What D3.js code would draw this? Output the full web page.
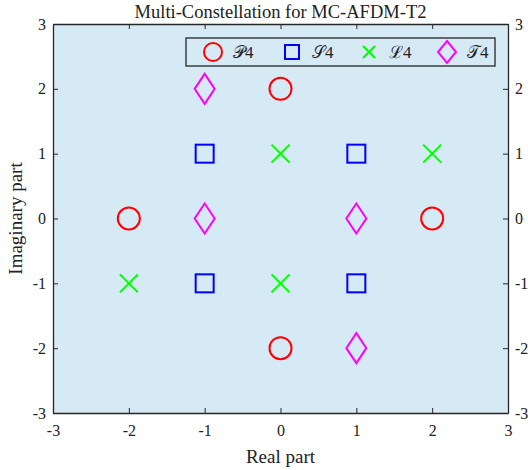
<!DOCTYPE html>
<html>
<head>
<meta charset="utf-8">
<script src="https://cdn.jsdelivr.net/npm/d3@7"></script>
<style>
  body { margin: 0; background: #fff; }
  text { font-family: "Liberation Serif", "DejaVu Serif", serif; fill: #222; }
</style>
</head>
<body>
<div id="chart"></div>
<script>
// constellation points, one array per set
var P4 = [{re: 0, im: 2}, {re: -2, im: 0}, {re: 2, im: 0}, {re: 0, im: -2}];
var S4 = [{re: -1, im: 1}, {re: 1, im: 1}, {re: -1, im: -1}, {re: 1, im: -1}];
var L4 = [{re: 0, im: 1}, {re: 2, im: 1}, {re: -2, im: -1}, {re: 0, im: -1}];
var T4 = [{re: -1, im: 2}, {re: -1, im: 0}, {re: 1, im: 0}, {re: 1, im: -2}];
var tickVals = [-3, -2, -1, 0, 1, 2, 3];
var seriesNames = ["\u{1D4AB}4", "\u{1D4AE}4", "\u2112" + "4", "\u{1D4AF}4"];

var width = 528, height = 470;
var margin = {top: 24, right: 20, bottom: 57, left: 53};

var svg = d3.select("#chart").append("svg")
  .attr("width", width)
  .attr("height", height);

var x = d3.scaleLinear().domain([-3, 3]).range([margin.left, width - margin.right]);
var y = d3.scaleLinear().domain([-3, 3]).range([height - margin.bottom, margin.top]);

// plot background
svg.append("rect")
  .attr("x", x(-3)).attr("y", y(3))
  .attr("width", x(3) - x(-3)).attr("height", y(-3) - y(3))
  .attr("fill", "#d6eaf5");

function styleAxis(g) {
  g.selectAll("path").attr("stroke", "#262626").attr("stroke-width", 1.3);
  g.selectAll("line").attr("stroke", "#262626");
  g.selectAll("text").attr("font-size", 16).attr("fill", "#262626")
    .style("font-family", "'Liberation Serif', serif");
}

var fmt = function(d) { return d; };
svg.append("g").attr("transform", "translate(0," + y(-3) + ")")
  .call(d3.axisBottom(x).tickValues(tickVals).tickFormat(fmt).tickSizeInner(-5).tickSizeOuter(0).tickPadding(12))
  .call(styleAxis);
svg.append("g").attr("transform", "translate(0," + y(3) + ")")
  .call(d3.axisTop(x).tickValues(tickVals).tickFormat("").tickSizeInner(-5).tickSizeOuter(0))
  .call(styleAxis);
svg.append("g").attr("transform", "translate(" + x(-3) + ",0)")
  .call(d3.axisLeft(y).tickValues(tickVals).tickFormat(fmt).tickSizeInner(-5).tickSizeOuter(0).tickPadding(7))
  .call(styleAxis);
svg.append("g").attr("transform", "translate(" + x(3) + ",0)")
  .call(d3.axisRight(y).tickValues(tickVals).tickFormat(fmt).tickSizeInner(-5).tickSizeOuter(0).tickPadding(7))
  .call(styleAxis);

// title and axis labels
svg.append("text").attr("x", (x(-3) + x(3)) / 2).attr("y", 18)
  .attr("text-anchor", "middle").attr("font-size", 18.5).text("Multi-Constellation for MC-AFDM-T2");
svg.append("text").attr("x", (x(-3) + x(3)) / 2).attr("y", 463)
  .attr("text-anchor", "middle").attr("font-size", 19).text("Real part");
svg.append("text")
  .attr("transform", "translate(22," + y(0) + ") rotate(-90)")
  .attr("text-anchor", "middle").attr("font-size", 19).text("Imaginary part");

var sw = 2;
var marks = svg.append("g");

marks.selectAll(".p4").data(P4).enter().append("circle")
  .attr("cx", function(d) { return x(d.re); })
  .attr("cy", function(d) { return y(d.im); })
  .attr("r", 11).attr("fill", "none").attr("stroke", "#ff0000").attr("stroke-width", sw);

marks.selectAll(".s4").data(S4).enter().append("rect")
  .attr("x", function(d) { return x(d.re) - 9; })
  .attr("y", function(d) { return y(d.im) - 9; })
  .attr("width", 18).attr("height", 18)
  .attr("fill", "none").attr("stroke", "#0000ff").attr("stroke-width", sw);

var crossPath = "M-9,-9L9,9M-9,9L9,-9";
marks.selectAll(".l4").data(L4).enter().append("path")
  .attr("transform", function(d) { return "translate(" + x(d.re) + "," + y(d.im) + ")"; })
  .attr("d", crossPath).attr("fill", "none").attr("stroke", "#00ff00").attr("stroke-width", sw);

var diamondPath = "M0,-15L10,0L0,15L-10,0Z";
marks.selectAll(".t4").data(T4).enter().append("path")
  .attr("transform", function(d) { return "translate(" + x(d.re) + "," + y(d.im) + ")"; })
  .attr("d", diamondPath).attr("fill", "none").attr("stroke", "#ff00ff").attr("stroke-width", sw);

// legend
var lg = svg.append("g").attr("transform", "translate(186,38)");
lg.append("rect").attr("width", 309).attr("height", 28)
  .attr("fill", "#d6eaf5").attr("stroke", "#262626").attr("stroke-width", 1.3);
var lx = [27, 106, 183, 261];
lg.append("circle").attr("cx", lx[0]).attr("cy", 14).attr("r", 9)
  .attr("fill", "none").attr("stroke", "#ff0000").attr("stroke-width", sw);
lg.append("rect").attr("x", lx[1] - 7).attr("y", 7).attr("width", 14).attr("height", 14)
  .attr("fill", "none").attr("stroke", "#0000ff").attr("stroke-width", sw);
lg.append("path").attr("transform", "translate(" + lx[2] + ",14)")
  .attr("d", "M-6,-6L6,6M-6,6L6,-6").attr("stroke", "#00ff00").attr("stroke-width", sw);
lg.append("path").attr("transform", "translate(" + lx[3] + ",14)")
  .attr("d", "M0,-11L9,0L0,11L-9,0Z").attr("fill", "none").attr("stroke", "#ff00ff").attr("stroke-width", sw);
lg.selectAll(".lt").data(seriesNames).enter().append("text")
  .attr("x", function(d, i) { return lx[i] + 20; })
  .attr("y", 20).attr("font-size", 17)
  .text(function(d) { return d; });
</script>
</body>
</html>
